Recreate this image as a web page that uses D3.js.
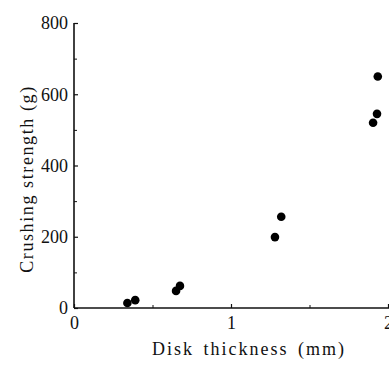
<!DOCTYPE html>
<html>
<head>
<meta charset="utf-8">
<script src="https://cdn.jsdelivr.net/npm/d3@7"></script>
<style>
  body { margin: 0; background: #fff; }
  text { font-family: "Liberation Serif", "DejaVu Serif", serif; fill: #111; }
</style>
</head>
<body>
<script>
// disk thickness (mm) vs crushing strength (g)
var thickness = [0.34, 0.39, 0.65, 0.675, 1.28, 1.32, 1.905, 1.93, 1.935];
var strength = [14, 22, 48, 62, 199, 256, 520, 545, 650];
var xTicks = [0, 1, 2];
var yTicks = [0, 200, 400, 600, 800];

var W = 389, H = 367;
var svg = d3.select("body").append("svg")
    .attr("width", W)
    .attr("height", H);

var x = d3.scaleLinear().domain([0, 2]).range([74, 388]);
var y = d3.scaleLinear().domain([0, 800]).range([308, 23]);

// y axis
var yAxis = svg.append("g")
    .attr("transform", "translate(" + x(0) + ",0)")
    .call(d3.axisLeft(y).tickValues(yTicks).tickSize(-4).tickPadding(6).tickFormat(d3.format("d")));
yAxis.select(".domain").attr("stroke", "#111").attr("stroke-width", 1.6).attr("d", "M0," + y(800) + "V" + y(0));
yAxis.selectAll(".tick line").attr("stroke", "#111").attr("stroke-width", 1.2);
yAxis.selectAll(".tick text").style("font-size", "18px").attr("x", -6).attr("dy", "0.33em");

svg.append("g")
    .attr("transform", "translate(" + x(0) + ",0)")
    .call(d3.axisLeft(y).tickValues([100, 300, 500, 700]).tickSize(-3).tickFormat(""))
    .call(function(g) { g.select(".domain").remove(); })
    .selectAll("line").attr("stroke", "#111");

// x axis
var xAxis = svg.append("g")
    .attr("transform", "translate(0," + y(0) + ")")
    .call(d3.axisBottom(x).tickValues(xTicks).tickSize(-4).tickPadding(8).tickFormat(d3.format("d")));
xAxis.select(".domain").attr("stroke", "#111").attr("stroke-width", 1.6).attr("d", "M" + x(0) + ",0H" + W);
xAxis.selectAll(".tick line").attr("stroke", "#111").attr("stroke-width", 1.2);
xAxis.selectAll(".tick text").style("font-size", "18px").attr("y", 8).attr("dy", "0.71em");

svg.append("g")
    .attr("transform", "translate(0," + y(0) + ")")
    .call(d3.axisBottom(x).tickValues([0.5, 1.5]).tickSize(-3).tickFormat(""))
    .call(function(g) { g.select(".domain").remove(); })
    .selectAll("line").attr("stroke", "#111");

// points
svg.selectAll("circle")
    .data(thickness)
    .enter()
    .append("circle")
    .attr("cx", function(d) { return x(d); })
    .attr("cy", function(d, i) { return y(strength[i]); })
    .attr("r", 4.3)
    .attr("fill", "#000");

// labels
svg.append("text")
    .attr("x", 249)
    .attr("y", 355)
    .attr("text-anchor", "middle")
    .style("font-size", "18px")
    .style("letter-spacing", "2px")
    .style("word-spacing", "3px")
    .text("Disk thickness (mm)");

svg.append("text")
    .attr("transform", "translate(33,179) rotate(-90)")
    .attr("text-anchor", "middle")
    .style("font-size", "18px")
    .style("letter-spacing", "1.6px")
    .text("Crushing strength (g)");
</script>
</body>
</html>
